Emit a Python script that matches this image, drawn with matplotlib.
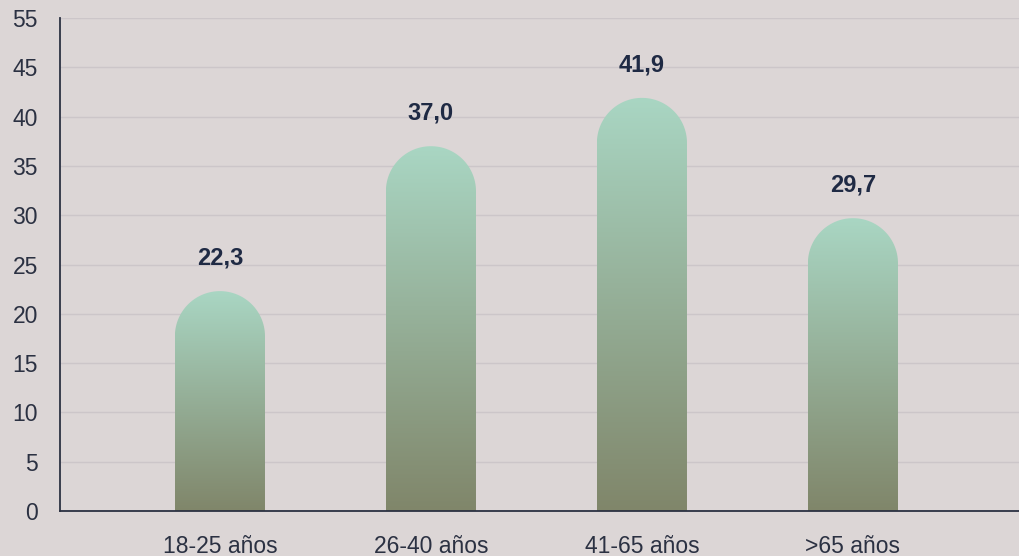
import numpy as np
import matplotlib.pyplot as plt
from matplotlib.path import Path
from matplotlib.patches import PathPatch
from matplotlib.colors import LinearSegmentedColormap

# Data
groups = ["18-25 años", "26-40 años", "41-65 años", ">65 años"]
values = [22.3, 37.0, 41.9, 29.7]
tick_vals = [0, 5, 10, 15, 20, 25, 30, 35, 40, 45, 50]
tick_labels = ["0", "5", "10", "15", "20", "25", "30", "35", "40", "45", "55"]

bg = "#dcd6d6"
ink = "#2b3142"
label_ink = "#1f2a44"
cmap = LinearSegmentedColormap.from_list("bar", ["#80866a", "#a9d6c3"])

plt.rcParams["font.family"] = ["Liberation Sans", "DejaVu Sans"]

fig = plt.figure(figsize=(10.19, 5.56), dpi=100, facecolor=bg)
ax = fig.add_axes([60 / 1019, 45 / 556, 959 / 1019, 493 / 556])
ax.set_facecolor(bg)

ax.set_xlim(-0.758, 3.787)
ax.set_ylim(0, 50)
ax.set_yticks(tick_vals)
ax.set_yticklabels(tick_labels)
ax.set_xticks(range(len(groups)))
ax.set_xticklabels(groups)
ax.tick_params(length=0, labelsize=16.5, colors=ink)
ax.tick_params(axis="y", pad=16)
ax.tick_params(axis="x", pad=17)
ax.grid(axis="y", color="#ccc6c9", linewidth=1)
ax.set_axisbelow(True)
for s in ["top", "right"]:
    ax.spines[s].set_visible(False)
for s in ["left", "bottom"]:
    ax.spines[s].set_color(ink)
    ax.spines[s].set_linewidth(1.3)

width = 0.427
rx = width / 2
# convert half-width to y units so the cap looks round on screen
fig.canvas.draw()
p0 = ax.transData.transform((0, 0))
p1 = ax.transData.transform((1, 1))
ry = rx * (p1[0] - p0[0]) / (p1[1] - p0[1])

grad = np.linspace(0, 1, 256).reshape(-1, 1)
for i, v in enumerate(values):
    x0, x1 = i - rx, i + rx
    cy = v - ry
    t = np.linspace(np.pi, 0, 60)
    verts = [(x0, 0), (x0, cy)]
    verts += [(i + rx * np.cos(a), cy + ry * np.sin(a)) for a in t]
    verts += [(x1, 0), (x0, 0)]
    codes = [Path.MOVETO] + [Path.LINETO] * (len(verts) - 2) + [Path.CLOSEPOLY]
    patch = PathPatch(Path(verts, codes), facecolor="none", edgecolor="none")
    ax.add_patch(patch)
    im = ax.imshow(grad, cmap=cmap, extent=(x0, x1, 0, v), origin="lower",
                   aspect="auto", zorder=2)
    im.set_clip_path(patch)
    ax.annotate(f"{v:.1f}".replace(".", ","), (i, v), xytext=(0, 24),
                textcoords="offset points", ha="center", va="center",
                fontsize=17, fontweight="bold", color=label_ink)

ax.set_xlim(-0.758, 3.787)
ax.set_ylim(0, 50)

fig.savefig("out.png", dpi=100, facecolor=bg)
